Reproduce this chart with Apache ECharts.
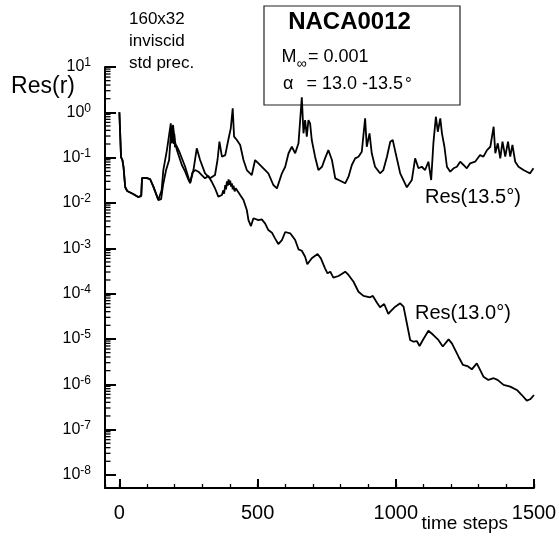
<!DOCTYPE html>
<html><head><meta charset="utf-8">
<script src="https://cdn.jsdelivr.net/npm/echarts@6/dist/echarts.min.js"></script>
<style>html,body{margin:0;padding:0;background:#fff}#c{width:559px;height:537px}</style>
</head><body><div id="c"></div>
<script>
// ---- data ----
const steps135 = [0,6,11,15,21,28,50,68,79,82,97,111,123,141,153,159,172,186,188,190,192,195,197,199,201,205,217,238,256,268,280,292,310,328,346,355,362,371,383,394,403,410,415,425,437,449,461,479,491,503,521,539,557,570,588,600,612,624,636,648,660,666,672,678,684,690,696,708,720,733,744,756,769,781,799,817,829,841,853,865,877,889,895,905,913,925,943,955,968,980,989,1001,1016,1040,1058,1070,1082,1094,1106,1118,1128,1136,1145,1152,1161,1167,1176,1185,1197,1209,1221,1233,1245,1257,1269,1287,1305,1317,1330,1342,1354,1360,1369,1378,1386,1396,1406,1414,1422,1432,1444,1462,1474,1486,1498];
const res135 = [1.0,0.103,0.0887,0.0621,0.0225,0.0184,0.0158,0.0135,0.0143,0.0356,0.0356,0.0338,0.0229,0.0116,0.0193,0.0533,0.147,0.572,0.3,0.207,0.45,0.373,0.2,0.33,0.17,0.19,0.135,0.063,0.0272,0.0533,0.161,0.0887,0.0451,0.035,0.0414,0.0887,0.225,0.105,0.114,0.245,0.443,1.22,0.29,0.245,0.19,0.0887,0.0533,0.0414,0.0887,0.075,0.0582,0.0451,0.0249,0.021,0.0451,0.063,0.125,0.174,0.125,0.207,2.14,0.344,0.676,0.29,0.676,0.572,0.245,0.105,0.0533,0.063,0.0966,0.147,0.0887,0.035,0.031,0.0272,0.038,0.0688,0.0966,0.105,0.135,0.738,0.174,0.344,0.125,0.063,0.0451,0.0533,0.105,0.225,0.245,0.114,0.0451,0.0221,0.0321,0.0966,0.0582,0.063,0.0533,0.0813,0.0321,0.207,0.8,0.373,0.738,0.344,0.174,0.063,0.049,0.0582,0.063,0.0813,0.0689,0.0582,0.075,0.0813,0.114,0.105,0.147,0.174,0.482,0.125,0.207,0.0966,0.225,0.105,0.225,0.105,0.19,0.0813,0.063,0.0533,0.049,0.0451,0.0582];

const steps130 = [0,6,11,15,21,28,50,68,79,82,97,111,123,141,151,158,169,180,187,194,200,208,226,238,250,256,264,274,286,298,310,322,334,346,358,371,376,379,383,386,389,392,395,398,401,404,407,410,413,417,421,425,437,449,461,467,476,485,503,515,527,539,552,563,575,588,600,618,636,648,660,672,680,696,717,729,744,753,763,774,793,817,829,847,865,883,907,917,932,943,958,973,980,998,1016,1028,1040,1052,1064,1076,1086,1098,1118,1136,1154,1170,1191,1203,1227,1243,1259,1275,1293,1305,1317,1335,1354,1368,1390,1414,1438,1456,1474,1486,1500];
const res130 = [1.0,0.103,0.0887,0.0621,0.0225,0.0184,0.0158,0.0135,0.0143,0.0356,0.0356,0.0338,0.0229,0.0116,0.0121,0.0249,0.0533,0.0887,0.407,0.525,0.245,0.147,0.0688,0.049,0.0321,0.028,0.0466,0.0533,0.049,0.0414,0.035,0.0394,0.0295,0.0211,0.0138,0.015,0.019,0.016,0.0249,0.02,0.03,0.024,0.033,0.025,0.031,0.023,0.0272,0.02,0.024,0.018,0.021,0.0194,0.015,0.0116,0.007,0.0042,0.0031,0.0046,0.0042,0.00436,0.00356,0.00253,0.00221,0.00166,0.00124,0.00152,0.00229,0.00214,0.00152,0.00095,0.000885,0.000653,0.000444,0.000601,0.000748,0.000601,0.000362,0.000281,0.000305,0.000225,0.000245,0.000305,0.000258,0.000183,0.00011,8.9e-5,8.3e-5,8.9e-5,6.3e-5,5.0e-5,5.9e-5,3.56e-5,4.0e-5,5.15e-5,6.1e-5,5.15e-5,2.22e-5,9.5e-6,8.7e-6,9.0e-6,7.0e-6,9.5e-6,1.52e-5,1.22e-5,9.5e-6,6.8e-6,9.8e-6,8.0e-6,4.06e-6,2.67e-6,2.53e-6,2.14e-6,2.9e-6,2.07e-6,1.47e-6,1.25e-6,1.36e-6,1.25e-6,9.7e-7,8.9e-7,7.5e-7,5.8e-7,4.35e-7,4.67e-7,5.8e-7];

const xRange = [-52, 1500];
const yRange = [5.15e-9, 10];
const yDecades = [-8,-7,-6,-5,-4,-3,-2,-1,0];   // minor ticks 2..9 inside each decade
const minorMult = [2,3,4,5,6,7,8,9];

const seriesNames = ['Res(13.5°)', 'Res(13.0°)'];

// ---- build ----
const FONT = '"Liberation Sans", Arial, Helvetica, sans-serif';
const zip = (a, b) => a.map((v, i) => [v, b[i]]);
const minorYValues = [];
yDecades.forEach(d => minorMult.forEach(m => minorYValues.push(m * Math.pow(10, d))));

const texts = [
  {type: 'text', x: 421.5, y: 524, style: {text: 'time steps', font: '19px ' + FONT, fill: '#000', verticalAlign: 'middle'}},
  {type: 'text', x: 129, y: 19, style: {text: '160x32', font: '17px ' + FONT, fill: '#000', verticalAlign: 'middle'}},
  {type: 'text', x: 129, y: 41, style: {text: 'inviscid', font: '17px ' + FONT, fill: '#000', verticalAlign: 'middle'}},
  {type: 'text', x: 129, y: 63, style: {text: 'std prec.', font: '17px ' + FONT, fill: '#000', verticalAlign: 'middle'}},
  {type: 'rect', shape: {x: 264, y: 6, width: 196, height: 99}, style: {fill: 'transparent', stroke: '#222', lineWidth: 1.2}},
  {type: 'text', x: 349.5, y: 22.5, style: {text: 'NACA0012', font: 'bold 24px ' + FONT, fill: '#000', align: 'center', verticalAlign: 'middle'}},
  {type: 'text', x: 281.5, y: 56.7, style: {text: 'M', font: '18px ' + FONT, fill: '#000', verticalAlign: 'middle'}},
  {type: 'text', x: 296.5, y: 64, style: {text: '∞', font: '14px ' + FONT, fill: '#000', verticalAlign: 'middle'}},
  {type: 'text', x: 308, y: 56.7, style: {text: '= 0.001', font: '18px ' + FONT, fill: '#000', verticalAlign: 'middle'}},
  {type: 'text', x: 283, y: 84, style: {text: 'α', font: '18px ' + FONT, fill: '#000', verticalAlign: 'middle'}},
  {type: 'text', x: 306.5, y: 84, style: {text: '= 13.0 -13.5', font: '18px ' + FONT, fill: '#000', verticalAlign: 'middle'}},
  {type: 'text', x: 405, y: 84, style: {text: '°', font: '17px ' + FONT, fill: '#000', verticalAlign: 'middle'}},
  {type: 'text', x: 425, y: 197.5, style: {text: seriesNames[0], font: '20px ' + FONT, fill: '#000', verticalAlign: 'middle'}},
  {type: 'text', x: 415, y: 313, style: {text: seriesNames[1], font: '20px ' + FONT, fill: '#000', verticalAlign: 'middle'}}
];

const chart = echarts.init(document.getElementById('c'), null, {renderer: 'canvas'});
chart.setOption({
  animation: false,
  backgroundColor: '#fff',
  grid: {left: 105, right: 25, top: 67, bottom: 49, containLabel: false, outerBoundsMode: 'none'},
  xAxis: [{
    type: 'value', min: xRange[0], max: xRange[1], splitNumber: 3,
    position: 'bottom',
    axisLine: {onZero: false, lineStyle: {color: '#000', width: 2}},
    axisTick: {inside: true, length: 9, lineStyle: {color: '#000', width: 2}},
    axisLabel: {margin: 15, fontFamily: FONT, fontSize: 20, color: '#000',
      formatter: v => (v < 0 ? '' : String(v))},
    splitLine: {show: false}
  }, {
    type: 'value', min: xRange[0], max: xRange[1], splitNumber: 15,
    position: 'bottom',
    axisLine: {show: false, onZero: false},
    axisTick: {inside: true, length: 4, lineStyle: {color: '#000', width: 1.3}},
    axisLabel: {show: false},
    splitLine: {show: false}
  }],
  yAxis: {
    type: 'log', logBase: 10, min: yRange[0], max: yRange[1],
    name: 'Res(r)', nameLocation: 'end', nameGap: -19.5,
    nameTextStyle: {fontFamily: FONT, fontSize: 23, color: '#000', align: 'right', verticalAlign: 'middle', padding: [0, 30, 0, 0]},
    axisLine: {onZero: false, lineStyle: {color: '#000', width: 2}},
    axisTick: {inside: true, length: 11, lineStyle: {color: '#000', width: 2}},
    axisLabel: {
      margin: 14, color: '#000',
      formatter: v => {
        const e = Math.round(Math.log10(v));
        if (Math.abs(Math.log10(v) - e) > 1e-6) return '';
        return '{b|10}{e|' + e + '}';
      },
      rich: {
        b: {fontFamily: FONT, fontSize: 16, lineHeight: 20, color: '#000'},
        e: {fontFamily: FONT, fontSize: 12, lineHeight: 12, verticalAlign: 'top', color: '#000'}
      }
    },
    splitLine: {show: false}
  },
  series: [
    {name: seriesNames[0], type: 'line', xAxisIndex: 0, yAxisIndex: 0, data: zip(steps135, res135),
     showSymbol: false, symbol: 'none', lineStyle: {color: '#000', width: 1.8}},
    {name: seriesNames[1], type: 'line', xAxisIndex: 0, yAxisIndex: 0, data: zip(steps130, res130),
     showSymbol: false, symbol: 'none', lineStyle: {color: '#000', width: 1.8}}
  ],
  graphic: texts
});

// log-scale minor ticks on the y axis, positioned through the chart's own axis scale
const ticks = minorYValues.filter(v => v > yRange[0] && v < yRange[1]).map(v => {
  const p = chart.convertToPixel({xAxisIndex: 0, yAxisIndex: 0}, [xRange[0], v]);
  return {type: 'line', z: 100, shape: {x1: p[0], y1: p[1], x2: p[0] + 5.5, y2: p[1]},
          style: {stroke: '#000', lineWidth: 1.3}};
});
chart.setOption({graphic: texts.concat(ticks)});
</script>
</body></html>
